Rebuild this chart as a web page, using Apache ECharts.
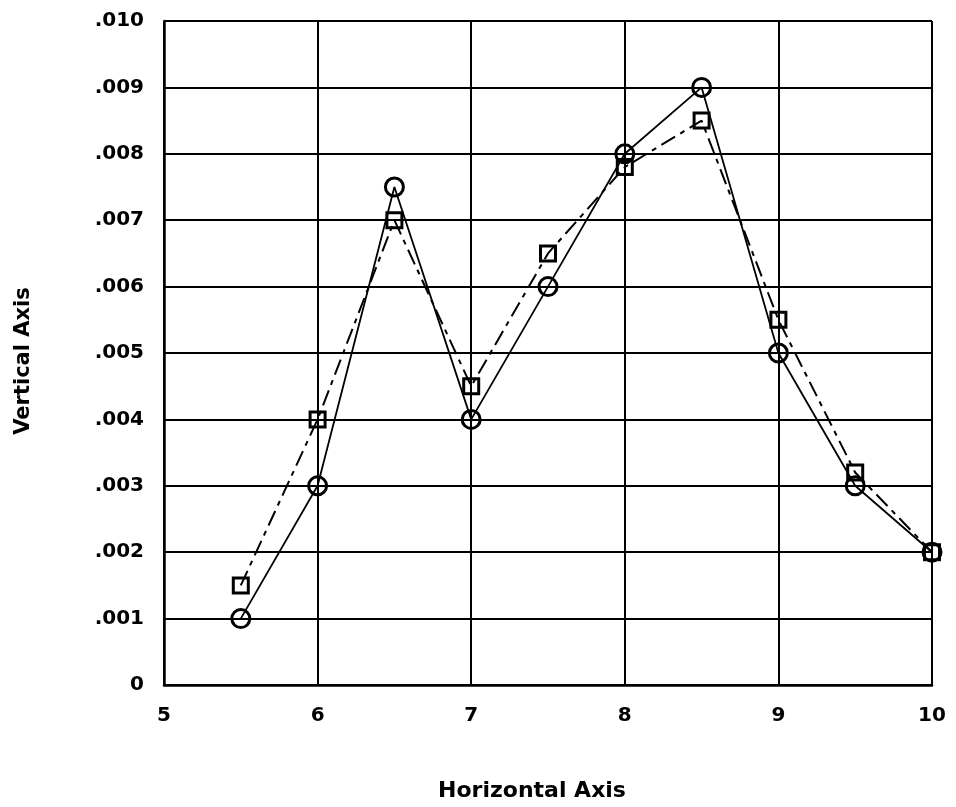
<!DOCTYPE html>
<html>
<head>
<meta charset="utf-8">
<script src="https://cdn.jsdelivr.net/npm/echarts@6/dist/echarts.min.js"></script>
<style>
html,body{margin:0;padding:0;background:#fff;}
#chart{width:956px;height:807px;}
</style>
</head>
<body>
<div id="chart"></div>
<script>
// Horizontal positions of the samples
const xValues = [5.5, 6, 6.5, 7, 7.5, 8, 8.5, 9, 9.5, 10];
// Circle series (solid line)
const circleValues = [0.001, 0.003, 0.0075, 0.004, 0.006, 0.008, 0.009, 0.005, 0.003, 0.002];
// Square series (dash-dot line)
const squareValues = [0.0015, 0.004, 0.007, 0.0045, 0.0065, 0.0078, 0.0085, 0.0055, 0.0032, 0.002];

const FONT = 'DejaVu Sans';
const pair = (xs, ys) => xs.map((x, i) => [x, ys[i]]);

const chart = echarts.init(document.getElementById('chart'), null, { renderer: 'canvas' });
chart.setOption({
  backgroundColor: '#fff',
  animation: false,
  grid: { left: 164, right: 24, top: 21, bottom: 122 },
  xAxis: {
    type: 'value', min: 5, max: 10, interval: 1,
    name: 'Horizontal Axis', nameLocation: 'middle', nameGap: 95,
    nameTextStyle: {
      color: '#000', fontFamily: FONT, fontSize: 22, fontWeight: 'bold',
      padding: [0, 32, 0, 0]
    },
    axisLine: { show: true, lineStyle: { color: '#000', width: 2.5 } },
    axisTick: { show: false },
    axisLabel: { color: '#000', fontFamily: FONT, fontSize: 20, fontWeight: 'bold', margin: 21 },
    splitLine: { show: true, lineStyle: { color: '#000', width: 2 } }
  },
  yAxis: {
    type: 'value', min: 0, max: 0.01, interval: 0.001,
    name: 'Vertical Axis', nameLocation: 'middle', nameGap: 130, nameRotate: 90,
    nameTextStyle: {
      color: '#000', fontFamily: FONT, fontSize: 21, fontWeight: 'bold',
      padding: [0, 16, 0, 0]
    },
    axisLine: { show: true, lineStyle: { color: '#000', width: 2.5 } },
    axisTick: { show: false },
    axisLabel: {
      color: '#000', fontFamily: FONT, fontSize: 20, fontWeight: 'bold', margin: 20,
      formatter: v => (Math.abs(v) < 1e-12 ? '0' : v.toFixed(3).replace(/^0/, ''))
    },
    splitLine: { show: true, lineStyle: { color: '#000', width: 2 } }
  },
  series: [
    {
      type: 'line', name: 'circles', data: pair(xValues, circleValues),
      symbol: 'circle', symbolSize: 18, showAllSymbol: true,
      itemStyle: { color: 'rgba(0,0,0,0)', borderColor: '#000', borderWidth: 3 },
      lineStyle: { color: '#000', width: 1.8, type: 'solid' },
      z: 3
    },
    {
      type: 'line', name: 'squares', data: pair(xValues, squareValues),
      symbol: 'rect', symbolSize: 15, showAllSymbol: true,
      itemStyle: { color: 'rgba(0,0,0,0)', borderColor: '#000', borderWidth: 3 },
      lineStyle: { color: '#000', width: 2, type: [16, 6, 5, 6] },
      z: 3
    }
  ]
});
</script>
</body>
</html>
